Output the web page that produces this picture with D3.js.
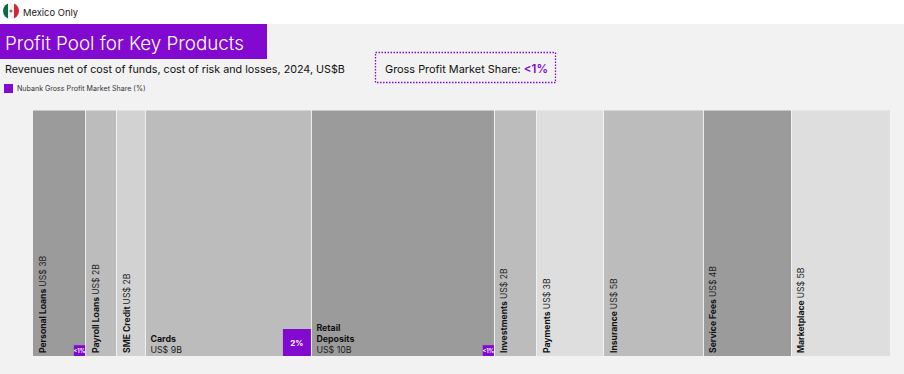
<!DOCTYPE html>
<html>
<head>
<meta charset="utf-8">
<script src="https://cdn.jsdelivr.net/npm/d3@7"></script>
<style>
html, body { margin: 0; padding: 0; background: #f2f2f2; }
svg { display: block; font-family: Inter, sans-serif; }
</style>
</head>
<body>
<svg width="904" height="374"></svg>
<script>
// Data
const products = ["Personal Loans", "Payroll Loans", "SME Credit", "Cards", "Retail Deposits", "Investments", "Payments", "Insurance", "Service Fees", "Marketplace"];
const labels = ["US$ 3B", "US$ 2B", "US$ 2B", "US$ 9B", "US$ 10B", "US$ 2B", "US$ 3B", "US$ 5B", "US$ 4B", "US$ 5B"];
const poolValues = [2.9, 1.69, 1.58, 9.07, 10, 2.3, 3.66, 5.46, 4.81, 5.41];
const shareValues = [0.8, null, null, 2, 0.8, null, null, null, null, null];
const shareLabels = ["<1%", "", "", "2%", "<1%", "", "", "", "", ""];
const fills = ["#9b9b9b", "#bcbcbc", "#d2d2d2", "#bcbcbc", "#9b9b9b", "#bcbcbc", "#dedede", "#bcbcbc", "#9b9b9b", "#dedede"];
const purple = "#8209d0";

const svg = d3.select("svg");

// Header
svg.append("rect").attr("width", 904).attr("height", 24).attr("fill", "#fff");
const flag = svg.append("g");
flag.append("clipPath").attr("id", "flagClip").append("circle").attr("cx", 11).attr("cy", 11).attr("r", 8);
const flagG = flag.append("g").attr("clip-path", "url(#flagClip)");
[["#0b6a47", 2], ["#f4f4f4", 8], ["#d32535", 14]].forEach(s => {
    flagG.append("rect").attr("x", s[1]).attr("y", 2).attr("width", 6).attr("height", 18).attr("fill", s[0]);
});
flagG.append("circle").attr("cx", 11).attr("cy", 11).attr("r", 1.5).attr("fill", "#8a7a4a");
svg.append("text").attr("x", 23).attr("y", 15.5).attr("font-size", 9.4).attr("fill", "#222").text("Mexico Only");

// Title
svg.append("rect").attr("x", 0).attr("y", 24).attr("width", 267).attr("height", 35).attr("fill", purple);
svg.append("text").attr("x", 5).attr("y", 50).attr("font-size", 18.8).attr("font-weight", 300).attr("fill", "#fff").text("Profit Pool for Key Products");
svg.append("text").attr("x", 5).attr("y", 73).attr("font-size", 10.75).attr("fill", "#111").text("Revenues net of cost of funds, cost of risk and losses, 2024, US$B");

// Legend
svg.append("rect").attr("x", 4).attr("y", 84).attr("width", 9).attr("height", 9).attr("fill", purple);
svg.append("text").attr("x", 17).attr("y", 91).attr("font-size", 7.1).attr("fill", "#333").text("Nubank Gross Profit Market Share (%)");

// Callout
svg.append("rect").attr("x", 375.5).attr("y", 52.5).attr("width", 180).attr("height", 30)
    .attr("fill", "none").attr("stroke", purple).attr("stroke-width", 1.3).attr("stroke-dasharray", "1.5 1.5");
const callout = svg.append("text").attr("x", 385).attr("y", 73).attr("font-size", 10.9).attr("fill", "#111");
callout.append("tspan").text("Gross Profit Market Share: ");
callout.append("tspan").attr("fill", purple).attr("font-weight", 600).attr("font-size", 11.5).text("<1%");

// Marimekko columns
const data = products.map((p, i) => ({ name: p, label: labels[i], value: poolValues[i], share: shareValues[i], shareLabel: shareLabels[i], fill: fills[i] }));
let running = 0;
data.forEach(d => { d.x0 = running; running += d.value; d.x1 = running; });

const x = d3.scaleLinear().domain([0, running]).range([33, 891]);
const yTop = 110.5, yBottom = 356;
const shareH = d3.scaleLinear().domain([0, 2]).range([0, 27]);
const shareW = d3.scaleLinear().domain([0, 2]).range([0, 28]);

const cols = svg.selectAll("g.col").data(data).join("g").attr("class", "col");
cols.append("rect")
    .attr("x", d => x(d.x0))
    .attr("y", yTop)
    .attr("width", d => x(d.x1) - x(d.x0) - 1)
    .attr("height", yBottom - yTop)
    .attr("fill", d => d.fill);

// Nubank share blocks
const shares = cols.filter(d => d.share != null);
shares.append("rect")
    .attr("x", d => x(d.x1) - 1 - shareW(d.share))
    .attr("y", d => yBottom - shareH(d.share))
    .attr("width", d => shareW(d.share))
    .attr("height", d => shareH(d.share))
    .attr("fill", purple);
shares.append("text")
    .attr("x", d => x(d.x1) - 1 - shareW(d.share) / 2)
    .attr("y", d => yBottom - shareH(d.share) / 2 + (d.share > 1 ? 3 : 2))
    .attr("text-anchor", "middle")
    .attr("font-size", d => d.share > 1 ? 8 : 5.5)
    .attr("font-weight", 700)
    .attr("fill", "#fff")
    .text(d => d.shareLabel);

// Narrow columns get rotated labels, wide ones get stacked labels
const rotated = cols.filter(d => d.value < 9);
const rotText = rotated.append("text")
    .attr("transform", d => `translate(${x(d.x0) + 12.5},353) rotate(-90)`)
    .attr("font-size", 8.6)
    .attr("fill", "#111");
rotText.append("tspan").attr("font-weight", 700).text(d => d.name + " ");
rotText.append("tspan").attr("fill", "#222").text(d => d.label);

const flat = cols.filter(d => d.value >= 9);
flat.each(function(d) {
    const g = d3.select(this);
    const lines = d.name.split(" ");
    const x0 = x(d.x0) + 4.5;
    lines.forEach((l, i) => {
        g.append("text").attr("x", x0).attr("y", 353 - (lines.length - i) * 11)
            .attr("font-size", 8.8).attr("font-weight", 700).attr("fill", "#111").text(l);
    });
    g.append("text").attr("x", x0).attr("y", 353).attr("font-size", 8.8).attr("fill", "#222").text(d.label);
});
</script>
</body>
</html>
